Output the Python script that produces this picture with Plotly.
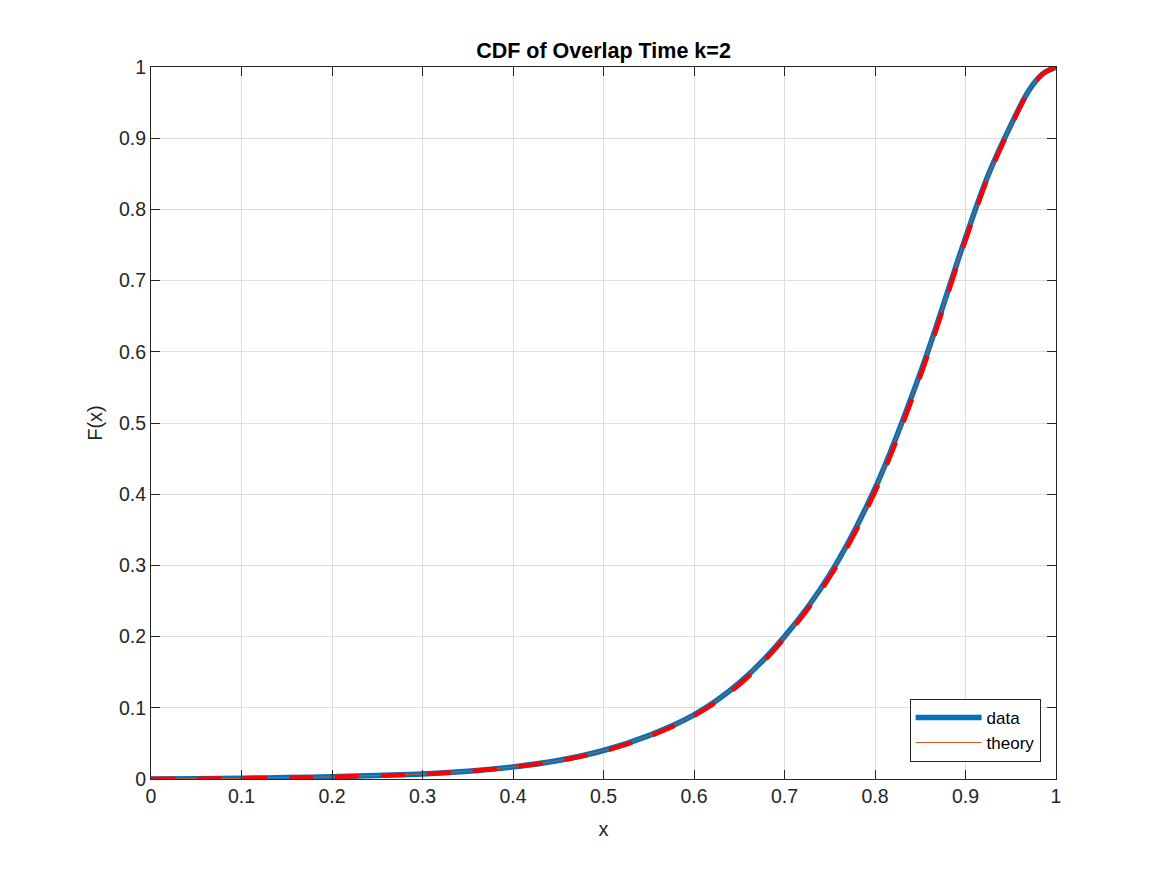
import plotly.graph_objects as go

x_vals = [0, 0.05, 0.1, 0.15, 0.2, 0.25, 0.3, 0.35, 0.4, 0.45, 0.5, 0.55, 0.6,
          0.65, 0.7, 0.75, 0.8, 0.85, 0.9, 0.925, 0.95, 0.97, 0.985, 1.0]
data_F = [0, 0.0005, 0.001, 0.002, 0.003, 0.005, 0.007, 0.011, 0.017, 0.026, 0.04,
          0.061, 0.09, 0.135, 0.2, 0.287, 0.408, 0.57, 0.76, 0.848, 0.918, 0.967, 0.99, 1.0]
theory_F = [0, 0.0005, 0.001, 0.002, 0.003, 0.005, 0.007, 0.011, 0.017, 0.026, 0.04,
            0.061, 0.09, 0.135, 0.2, 0.287, 0.408, 0.57, 0.76, 0.848, 0.918, 0.967, 0.99, 1.0]
dash_F = [0, 0.0005, 0.001, 0.002, 0.003, 0.0049, 0.0069, 0.0108, 0.0167, 0.0255, 0.039,
          0.0595, 0.0885, 0.1325, 0.1975, 0.2835, 0.403, 0.565, 0.756, 0.845, 0.916, 0.966, 0.99, 1.0]
tick_vals = [0, 0.1, 0.2, 0.3, 0.4, 0.5, 0.6, 0.7, 0.8, 0.9, 1]
tick_text = ["0", "0.1", "0.2", "0.3", "0.4", "0.5", "0.6", "0.7", "0.8", "0.9", "1"]

font = "Liberation Sans, Arial, Helvetica, sans-serif"

fig = go.Figure()
fig.add_trace(go.Scatter(x=x_vals, y=data_F, mode="lines", name="data",
                         line=dict(color="#0072BD", width=5.5, shape="spline")))
fig.add_trace(go.Scatter(x=x_vals, y=theory_F, mode="lines", name="theory",
                         line=dict(color="#D95319", width=1, shape="spline")))
fig.add_trace(go.Scatter(x=x_vals, y=dash_F, mode="lines", showlegend=False,
                         line=dict(color="#FF0000", width=4.5, dash="24px,22px", shape="spline")))

axis_common = dict(
    range=[0, 1], tickvals=tick_vals, ticktext=tick_text,
    showgrid=True, gridcolor="#DEDEDE", gridwidth=1,
    showline=True, linecolor="#262626", linewidth=1, mirror="ticks",
    ticks="inside", ticklen=9, tickcolor="#262626", tickwidth=1,
    zeroline=False, tickfont=dict(family=font, size=19.5, color="#262626"),
)

fig.update_layout(
    width=1167, height=875,
    paper_bgcolor="white", plot_bgcolor="white",
    margin=dict(l=143, r=119, t=59, b=104),
    title=dict(text="<b>CDF of Overlap Time k=2</b>", x=0.5, xref="paper",
               y=1 - 42 / 875, yref="container", yanchor="middle", xanchor="center",
               font=dict(family=font, size=21.5, color="black")),
    xaxis=dict(axis_common, title=dict(text="x", font=dict(family=font, size=20, color="#262626"),
                                       standoff=15)),
    yaxis=dict(axis_common, title=dict(text="F(x)", font=dict(family=font, size=20, color="#262626"),
                                       standoff=10)),
    legend=dict(x=0.983, y=0.024, xanchor="right", yanchor="bottom",
                bgcolor="white", bordercolor="#262626", borderwidth=1,
                font=dict(family=font, size=17, color="black"),
                itemwidth=66, tracegroupgap=0),
    showlegend=True,
)

fig.write_html("out.html")
